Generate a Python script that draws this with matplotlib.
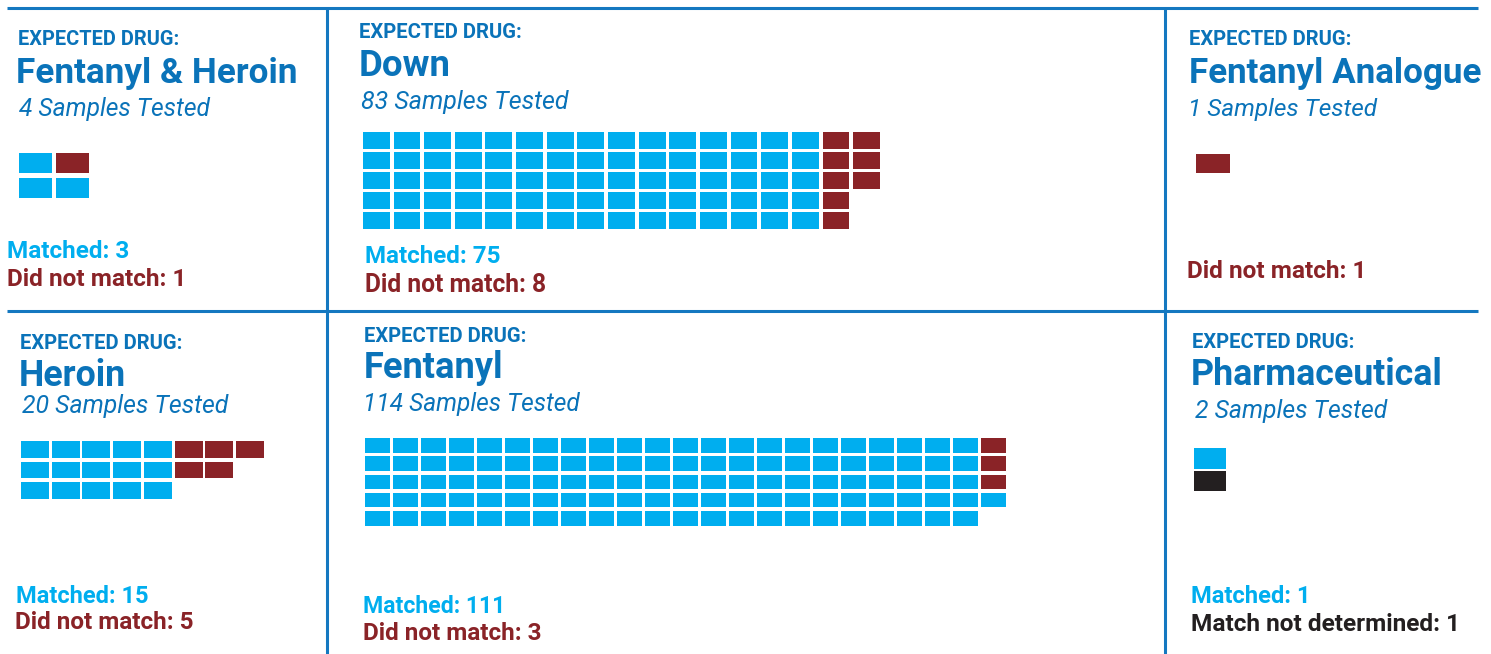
import matplotlib
matplotlib.use("Agg")
import matplotlib.pyplot as plt
from matplotlib.font_manager import FontProperties
from matplotlib.patches import Rectangle
from matplotlib.textpath import TextPath

# ---------------- data ----------------
drugs = ["Fentanyl & Heroin", "Down", "Fentanyl Analogue", "Heroin", "Fentanyl", "Pharmaceutical"]
samples = [4, 83, 1, 20, 114, 2]
matched = [3, 75, 0, 15, 111, 1]
not_matched = [1, 8, 1, 5, 3, 0]
not_determined = [0, 0, 0, 0, 0, 1]

# waffle cells per row: M = matched, N = did not match, U = match not determined
grid_fh = ["MN", "MM"]
grid_down = ["M" * 15 + "NN", "M" * 15 + "NN", "M" * 15 + "NN", "M" * 15 + "N", "M" * 15 + "N"]
grid_fa = ["N"]
grid_her = ["M" * 5 + "NNN", "M" * 5 + "NN", "M" * 5]
grid_fen = ["M" * 22 + "N", "M" * 22 + "N", "M" * 22 + "N", "M" * 23, "M" * 22]
grid_ph = ["M", "U"]
grids = [grid_fh, grid_down, grid_fa, grid_her, grid_fen, grid_ph]

# ---------------- styles / layout ----------------
C_HEAD = "#0a73b9"
C_M = "#00aeef"
C_N = "#8a2327"
C_U = "#231f20"
C_LINE = "#1478c0"
cell_colors = {"M": C_M, "N": C_N, "U": C_U}

# grid layout: x0, y0, pitch_x, pitch_y, w, h  (pixels)
grid_layout = [
    (19, 153, 37, 25, 32.7, 19.7),
    (362.9, 132, 30.64, 20, 26.9, 16.7),
    (1196, 154, 37, 25, 34, 19),
    (21, 441, 30.7, 20.5, 28, 16.7),
    (364.8, 438, 28.0, 18.25, 25.0, 14.7),
    (1194, 448.3, 37, 22.7, 32, 20.3),
]
# text layout: (x, baseline, ink width, cap height)
hdr_pos = [(19, 45, 164, 12.3), (359.9, 38.3, 166, 12.7), (1190.7, 45, 164.3, 12.7),
           (21, 349.3, 164, 12.8), (365.7, 342.3, 166, 12.3), (1193.3, 348.3, 165, 12.7)]
title_pos = [(18, 82.7, 282, 23.4), (361.4, 76, 89, 24), (1191.7, 82.7, 296.3, 22.7),
             (21, 386, 104.7, 24.0), (365.7, 378.3, 138.4, 23.3), (1193, 385, 250.3, 24.5)]
sub_pos = [(19, 115.7, 194, 16.7), (361.4, 109.3, 208.6, 17.2), (1191, 115.7, 190.7, 15.7),
           (22, 413.3, 209, 16.7), (365.7, 411, 217, 16.7), (1195, 418.3, 194, 16.7)]
lab1_pos = [(9, 258.3, 120, 17.2), (366.7, 263.3, 132.8, 17.4), None,
            (17.7, 602.7, 130, 16.7), (364.8, 613.3, 136, 16.7), (1193, 602.7, 115, 16.3)]
lab2_pos = [(9, 285.7, 173, 17.5), (366.7, 292.3, 178.4, 17.8), (1189, 277.7, 172.7, 17.7),
            (17, 629.3, 178.7, 16.3), (364.8, 640, 177, 16.7), (1193, 631, 262, 17.5)]

FP_BOLD = FontProperties(family=["Roboto", "DejaVu Sans"], weight="bold")
FP_ITAL = FontProperties(family=["Roboto", "DejaVu Sans"], style="italic")

fig = plt.figure(figsize=(14.91, 6.54), dpi=100)
ax = fig.add_axes([0, 0, 1, 1])
ax.set_xlim(0, 1491)
ax.set_ylim(654, 0)
ax.axis("off")


def put(pos, s, fp, color, hw=0.2):
    x, y, tw, ch = pos
    e = TextPath((0, 0), s, size=10, prop=fp).get_extents()
    hp = TextPath((0, 0), "H", size=10, prop=fp).get_extents()
    s_h = ch / (hp.height / 10.0)
    s_w = tw / (e.width / 10.0)
    s_px = (s_h ** hw) * (s_w ** (1 - hw))
    xoff = e.x0 / 10.0 * s_px
    f = fp.copy()
    f.set_size(s_px * 0.72)
    ax.text(x - xoff, y, s, fontproperties=f, color=color, ha="left", va="baseline")


# separator lines
ax.plot([7, 1478], [8.3, 8.3], color=C_LINE, lw=2.2, solid_capstyle="butt")
ax.plot([7, 1478], [310.5, 310.5], color=C_LINE, lw=2.2, solid_capstyle="butt")
for xv in (326.5, 1164.5):
    ax.plot([xv, xv], [8.3, 654], color=C_LINE, lw=2.2, solid_capstyle="butt")

for i, name in enumerate(drugs):
    put(hdr_pos[i], "EXPECTED DRUG:", FP_BOLD, C_HEAD)
    put(title_pos[i], name, FP_BOLD, C_HEAD)
    put(sub_pos[i], f"{samples[i]} Samples Tested", FP_ITAL, C_HEAD)
    if matched[i] > 0 and lab1_pos[i]:
        put(lab1_pos[i], f"Matched: {matched[i]}", FP_BOLD, C_M)
    if not_determined[i] > 0:
        put(lab2_pos[i], f"Match not determined: {not_determined[i]}", FP_BOLD, C_U)
    elif not_matched[i] > 0:
        put(lab2_pos[i], f"Did not match: {not_matched[i]}", FP_BOLD, C_N)

    x0, y0, px, py, w, h = grid_layout[i]
    for r, row in enumerate(grids[i]):
        for c, ch in enumerate(row):
            if ch in cell_colors:
                ax.add_patch(Rectangle((x0 + c * px, y0 + r * py), w, h,
                                       facecolor=cell_colors[ch], edgecolor="none"))

fig.savefig("out.png", dpi=100)
